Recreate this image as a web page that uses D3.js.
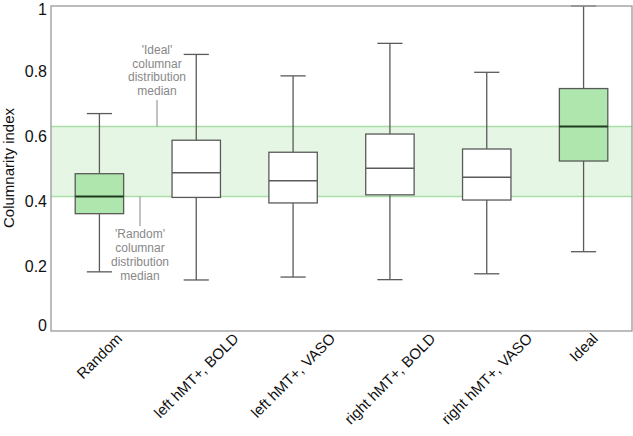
<!DOCTYPE html>
<html><head><meta charset="utf-8">
<script src="https://cdn.jsdelivr.net/npm/d3@7"></script>
<style>body{margin:0;background:#fff}svg{display:block;font-family:"Liberation Sans",Arial,sans-serif}</style>
</head><body><svg id="c" width="633" height="436"></svg>
<script>
const categories = ["Random","left hMT+, BOLD","left hMT+, VASO","right hMT+, BOLD","right hMT+, VASO","Ideal"];
const whiskerLow = [0.182,0.157,0.166,0.158,0.176,0.244];
const q1 = [0.361,0.411,0.394,0.419,0.403,0.523];
const median = [0.414,0.487,0.462,0.501,0.473,0.629];
const q3 = [0.484,0.587,0.550,0.606,0.560,0.746];
const whiskerHigh = [0.669,0.851,0.785,0.885,0.796,1.0];
const highlighted = [true,false,false,false,false,true];
const yTicks = [0,0.2,0.4,0.6,0.8,1];
const bandRange = [0.414,0.629];
const idealNote = ["'Ideal'","columnar","distribution","median"];
const randomNote = ["'Random'","columnar","distribution","median"];

const svg = d3.select("#c");
const L=51,R=632,T=6,B=331;
const x = d3.scaleBand().domain(categories).range([L,R]).padding(0);
const y = d3.scaleLinear().domain([0,1]).range([B,T]);
const bw = x.bandwidth()*0.5, cw = x.bandwidth()*0.26;

// band
svg.append("rect").attr("x",L).attr("y",y(bandRange[1])).attr("width",R-L).attr("height",y(bandRange[0])-y(bandRange[1])).attr("fill","#e6f6e4");
bandRange.forEach(v=>svg.append("line").attr("x1",L).attr("x2",R).attr("y1",y(v)).attr("y2",y(v)).attr("stroke","#a9dea6").attr("stroke-width",1.5));

// annotations
const ix = 157, rx = 140;
svg.append("line").attr("x1",ix).attr("x2",ix).attr("y1",100).attr("y2",y(bandRange[1])).attr("stroke","#999").attr("stroke-width",1.2);
svg.append("line").attr("x1",rx).attr("x2",rx).attr("y1",y(bandRange[0])).attr("y2",226).attr("stroke","#999").attr("stroke-width",1.2);
idealNote.forEach((t,i)=>svg.append("text").attr("x",ix).attr("y",54+i*13.5).attr("text-anchor","middle").attr("font-size",12).attr("fill","#888").text(t));
randomNote.forEach((t,i)=>svg.append("text").attr("x",rx).attr("y",238+i*14).attr("text-anchor","middle").attr("font-size",12).attr("fill","#888").text(t));

// boxes
const g = svg.append("g");
categories.forEach((c,i)=>{
  const cx = x(c)+x.bandwidth()/2;
  const s="#5a5a5a";
  g.append("line").attr("x1",cx).attr("x2",cx).attr("y1",y(whiskerHigh[i])).attr("y2",y(q3[i])).attr("stroke",s).attr("stroke-width",1.3);
  g.append("line").attr("x1",cx).attr("x2",cx).attr("y1",y(q1[i])).attr("y2",y(whiskerLow[i])).attr("stroke",s).attr("stroke-width",1.3);
  [whiskerHigh[i],whiskerLow[i]].forEach(v=>g.append("line").attr("x1",cx-cw/2).attr("x2",cx+cw/2).attr("y1",y(v)).attr("y2",y(v)).attr("stroke",s).attr("stroke-width",1.3));
  g.append("rect").attr("x",cx-bw/2).attr("y",y(q3[i])).attr("width",bw).attr("height",y(q1[i])-y(q3[i]))
    .attr("fill",highlighted[i]?"#aee6ad":"#fff").attr("stroke",s).attr("stroke-width",1.3);
  g.append("line").attr("x1",cx-bw/2).attr("x2",cx+bw/2).attr("y1",y(median[i])).attr("y2",y(median[i]))
    .attr("stroke",highlighted[i]?"#1f3a1f":s).attr("stroke-width",highlighted[i]?2:1.5);
});

// frame
svg.append("rect").attr("x",L).attr("y",T).attr("width",R-L).attr("height",B-T).attr("fill","none").attr("stroke","#999").attr("stroke-width",1.3);

// y axis
const ya = svg.append("g").attr("transform",`translate(${L},0)`).call(d3.axisLeft(y).tickValues(yTicks).tickSize(0).tickPadding(4).tickFormat(d=>d3.format("")(d)));
ya.select(".domain").remove();
ya.selectAll("text").attr("font-size",16).attr("fill","#111").attr("font-family","Liberation Sans, Arial, sans-serif")
  .attr("dy",d=>d===0?"-0.05em":(d===1?"0.5em":"0.32em"));
svg.append("text").attr("transform","translate(14,168) rotate(-90)").attr("text-anchor","middle").attr("font-size",15).attr("fill","#111").text("Columnarity index");

// x axis: labels rotated 45°, bounding box centered on tick, top at fixed offset
const xa = svg.append("g").attr("transform",`translate(0,${B})`).call(d3.axisBottom(x).tickSize(0).tickPadding(0));
xa.select(".domain").remove();
xa.selectAll("text").attr("font-size",15).attr("fill","#111").attr("font-family","Liberation Sans, Arial, sans-serif")
  .attr("text-anchor","middle").attr("dy","0.35em").attr("y",0)
  .each(function(){
    const w = this.getComputedTextLength();
    const h = 11;
    const half = (w+h)*Math.SQRT1_2/2;
    d3.select(this).attr("transform",`translate(0,${1+half}) rotate(-45)`);
  });
</script></body></html>
